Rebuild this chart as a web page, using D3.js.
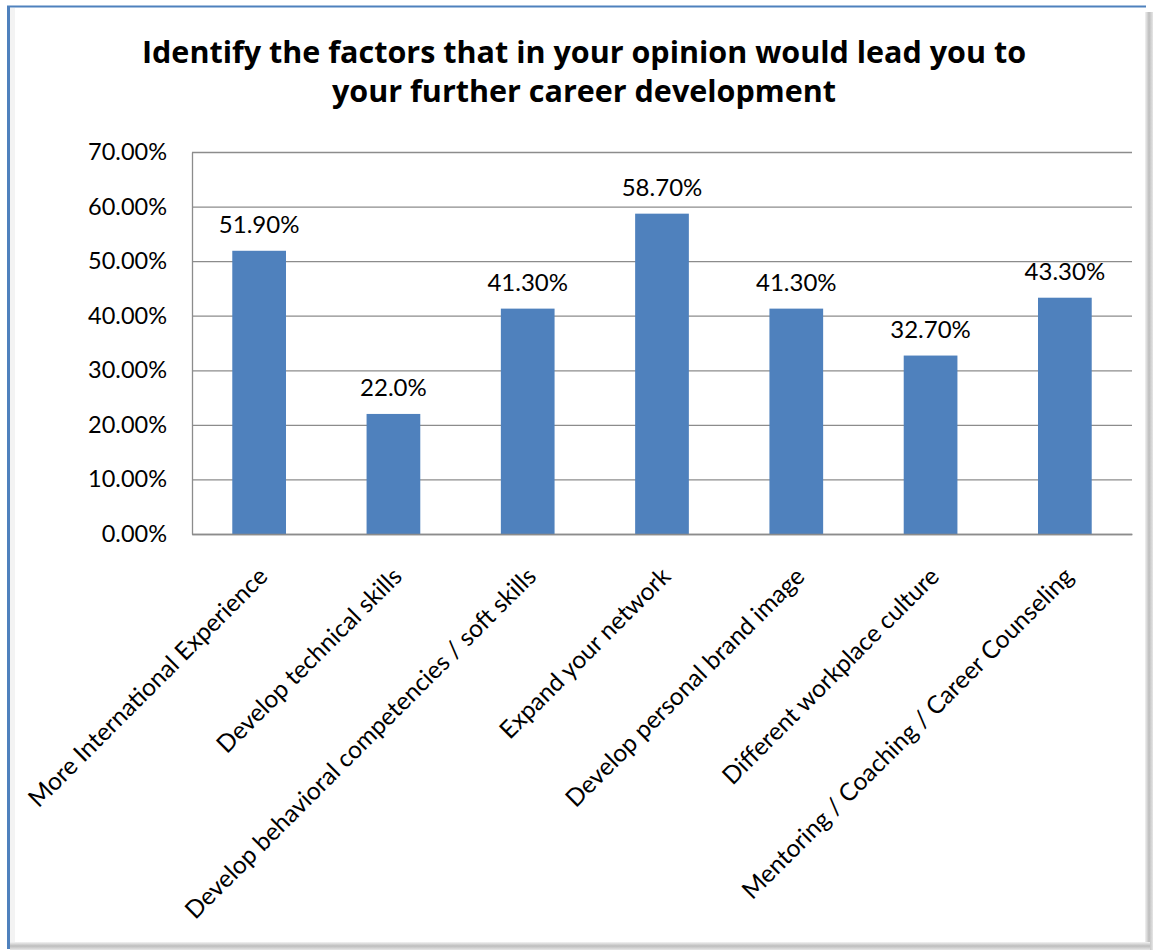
<!DOCTYPE html>
<html>
<head>
<meta charset="utf-8">
<script src="https://cdn.jsdelivr.net/npm/d3@7/dist/d3.min.js"></script>
<style>
  html, body { margin: 0; padding: 0; background: #ffffff; }
  svg { display: block; }
  text { font-family: Lato, "Open Sans", sans-serif; fill: #000; }
</style>
</head>
<body>
<svg id="chart" width="1154" height="951"></svg>
<script>
// Survey results: share of respondents choosing each career-development factor
const categories = [
  "More International Experience",
  "Develop technical skills",
  "Develop behavioral competencies / soft skills",
  "Expand your network",
  "Develop personal brand image",
  "Different workplace culture",
  "Mentoring / Coaching / Career Counseling"
];
const values = [51.9, 22.0, 41.3, 58.7, 41.3, 32.7, 43.3];
const valueLabels = ["51.90%", "22.0%", "41.30%", "58.70%", "41.30%", "32.70%", "43.30%"];
const yTicks = [0, 10, 20, 30, 40, 50, 60, 70];
const titleLines = [
  "Identify the factors that in your opinion would lead you to",
  "your further career development"
];

const W = 1154, H = 951;
const plot = { left: 192, right: 1132, top: 152, bottom: 534 };

const svg = d3.select("#chart");
const defs = svg.append("defs");

// Frame shadows on the right and bottom edges
const gR = defs.append("linearGradient").attr("id", "shadowR").attr("x1", 0).attr("x2", 1).attr("y1", 0).attr("y2", 0);
gR.append("stop").attr("offset", 0).attr("stop-color", "#f2f2f2");
gR.append("stop").attr("offset", 0.5).attr("stop-color", "#bdbdbd");
gR.append("stop").attr("offset", 1).attr("stop-color", "#e6e6e6");
const gB = defs.append("linearGradient").attr("id", "shadowB").attr("x1", 0).attr("x2", 0).attr("y1", 0).attr("y2", 1);
gB.append("stop").attr("offset", 0).attr("stop-color", "#f2f2f2");
gB.append("stop").attr("offset", 0.5).attr("stop-color", "#bdbdbd");
gB.append("stop").attr("offset", 1).attr("stop-color", "#e6e6e6");

svg.append("rect").attr("x", 0).attr("y", 0).attr("width", W).attr("height", H).attr("fill", "#fff");
svg.append("rect").attr("x", 1145).attr("y", 12).attr("width", 8).attr("height", 938).attr("fill", "url(#shadowR)");
svg.append("rect").attr("x", 10).attr("y", 942).attr("width", 1140).attr("height", 8).attr("fill", "url(#shadowB)");
// faint inner shading along the left of the frame
svg.append("rect").attr("x", 10).attr("y", 8).attr("width", 5).attr("height", 934).attr("fill", "#f3f3f3");
// blue frame edges
svg.append("line").attr("x1", 7).attr("x2", 1146).attr("y1", 6.5).attr("y2", 6.5).attr("stroke", "#4f81bd").attr("stroke-width", 2);
svg.append("line").attr("x1", 8.5).attr("x2", 8.5).attr("y1", 6).attr("y2", 949).attr("stroke", "#4f81bd").attr("stroke-width", 3);

// Title
const title = svg.append("text")
  .attr("text-anchor", "middle")
  .attr("font-weight", "bold")
  .attr("font-size", 30.5)
  .style("font-family", "'Open Sans', Lato, sans-serif");
titleLines.forEach((t, i) => {
  title.append("tspan").attr("x", 584).attr("y", 63 + i * 39).text(t);
});

// Scales
const x = d3.scaleBand()
  .domain(categories)
  .range([plot.left, plot.right])
  .paddingInner(0.6)
  .paddingOuter(0.3);
const y = d3.scaleLinear().domain([0, 70]).range([plot.bottom, plot.top]);

// Gridlines
const grid = svg.append("g")
  .attr("transform", `translate(${plot.left},0)`)
  .call(d3.axisLeft(y).tickValues(yTicks).tickSize(-(plot.right - plot.left)).tickFormat(""));
grid.select(".domain").remove();
grid.selectAll(".tick line").attr("stroke", "#8c8c8c").attr("stroke-width", 1.3);

// Y axis
const yAxis = svg.append("g")
  .attr("transform", `translate(${plot.left},0)`)
  .call(d3.axisLeft(y).tickValues(yTicks).tickSize(0).tickPadding(25).tickFormat(d => d.toFixed(2) + "%"));
yAxis.select(".domain").attr("stroke", "#8c8c8c").attr("stroke-width", 1.3);
yAxis.selectAll(".tick text").attr("font-size", 23.5).attr("fill", "#1a1a1a")
  .style("font-family", "Lato, sans-serif");

// Bars
svg.append("g").selectAll("rect")
  .data(values)
  .join("rect")
  .attr("x", (d, i) => x(categories[i]))
  .attr("y", d => y(d))
  .attr("width", x.bandwidth())
  .attr("height", d => y(0) - y(d))
  .attr("fill", "#4f81bd");

// Value labels
svg.append("g").selectAll("text")
  .data(values)
  .join("text")
  .attr("x", (d, i) => x(categories[i]) + x.bandwidth() / 2)
  .attr("y", d => y(d) - 18)
  .attr("text-anchor", "middle")
  .attr("font-size", 24)
  .attr("fill", "#1a1a1a")
  .text((d, i) => valueLabels[i]);

// X axis with rotated category labels
const xAxis = svg.append("g")
  .attr("transform", `translate(0,${plot.bottom})`)
  .call(d3.axisBottom(x).tickSize(0).tickPadding(0));
xAxis.select(".domain").attr("stroke", "#8c8c8c").attr("stroke-width", 1.3);
xAxis.selectAll(".tick text")
  .attr("font-size", 24.5)
  .attr("fill", "#000")
  .attr("text-anchor", "end")
  .attr("dominant-baseline", "text-before-edge")
  .attr("dy", null)
  .attr("y", 0)
  .attr("transform", "translate(-7,27) rotate(-45)");
</script>
</body>
</html>
